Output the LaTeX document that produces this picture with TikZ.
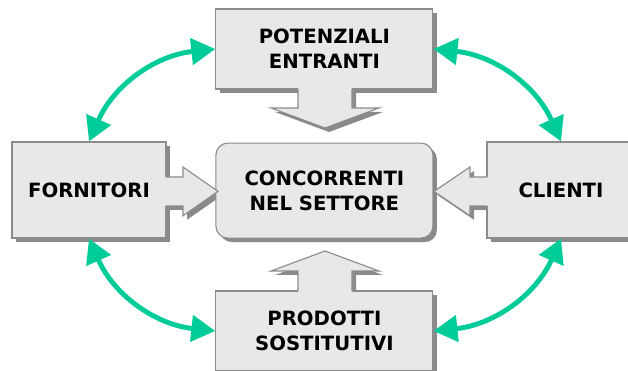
\documentclass[tikz,border=0pt]{standalone}
\usepackage{fontspec}
\setmainfont{DejaVu Sans}
\usetikzlibrary{arrows.meta,shadows}
\definecolor{boxgray}{HTML}{E8E8E8}
\definecolor{linegray}{HTML}{8C8C8C}
\definecolor{shadegray}{HTML}{8A8A8A}
\definecolor{arcgreen}{HTML}{00CC99}
\tikzset{
  force/.style={draw=linegray, fill=boxgray, line width=0.8pt,
    minimum width=5.425cm, minimum height=2cm, align=center,
    font=\bfseries\fontsize{14}{18}\selectfont,
    drop shadow={shadow xshift=0.1cm, shadow yshift=-0.1cm, fill=shadegray, opacity=1}},
  rivalry/.style={force, rounded corners=0.3cm, minimum height=2.375cm},
  flowfill/.style={fill=boxgray},
  flowline/.style={draw=linegray, line width=0.8pt},
  flowshade/.style={fill=shadegray, shift={(0.1,-0.1)}},
  link/.style={arcgreen, line width=3.5pt,
    {Triangle[length=0.6cm,width=0.65cm]}-{Triangle[length=0.6cm,width=0.65cm]}}
}
\begin{document}
\begin{tikzpicture}
    \useasboundingbox (0,0) rectangle (15.7,9.275);
    % shadows of the big arrows
    \fill[flowshade](7.45,7.05)--(7.45,6.575)--(6.775,6.575)--(8.125,6.075)--(9.475,6.575)--(8.8,6.575)--(8.8,7.05)--cycle;
    \fill[flowshade](4.15,4.85)--(4.575,4.85)--(4.575,5.1)--(5.45,4.49)--(4.575,3.88)--(4.575,4.125)--(4.15,4.125)--cycle;
    \fill[flowshade](12.175,4.85)--(11.75,4.85)--(11.75,5.1)--(10.85,4.49)--(11.75,3.88)--(11.75,4.125)--(12.175,4.125)--cycle;
    \fill[flowshade](7.45,2)--(7.45,2.5)--(6.775,2.5)--(8.125,3)--(9.475,2.5)--(8.8,2.5)--(8.8,2)--cycle;

    \node[force] (entranti) at (8.11,8.05){POTENZIALI\\ENTRANTI};
    \node[rivalry] (settore) at (8.11,4.51){CONCORRENTI\\NEL SETTORE};
    \node[force, minimum width=3.85cm, minimum height=2.4cm] (fornitori) at (2.225,4.525){FORNITORI};
    \node[force, minimum width=3.7cm, minimum height=2.4cm] (clienti) at (14.025,4.525){CLIENTI};
    \node[force] (sostitutivi) at (8.11,1){PRODOTTI\\SOSTITUTIVI};

    % big arrows
    \fill[flowfill](7.45,7.08)--(7.45,6.575)--(6.775,6.575)--(8.125,6.075)--(9.475,6.575)--(8.8,6.575)--(8.8,7.08)--cycle;
    \draw[flowline](7.45,7.05)--(7.45,6.575)--(6.775,6.575)--(8.125,6.075)--(9.475,6.575)--(8.8,6.575)--(8.8,7.05);
    \fill[flowfill](4.12,4.85)--(4.575,4.85)--(4.575,5.1)--(5.45,4.49)--(4.575,3.88)--(4.575,4.125)--(4.12,4.125)--cycle;
    \draw[flowline](4.15,4.85)--(4.575,4.85)--(4.575,5.1)--(5.45,4.49)--(4.575,3.88)--(4.575,4.125)--(4.15,4.125);
    \fill[flowfill](12.205,4.85)--(11.75,4.85)--(11.75,5.1)--(10.85,4.49)--(11.75,3.88)--(11.75,4.125)--(12.205,4.125)--cycle;
    \draw[flowline](12.175,4.85)--(11.75,4.85)--(11.75,5.1)--(10.85,4.49)--(11.75,3.88)--(11.75,4.125)--(12.175,4.125);
    \fill[flowfill](7.45,1.97)--(7.45,2.5)--(6.775,2.5)--(8.125,3)--(9.475,2.5)--(8.8,2.5)--(8.8,1.97)--cycle;
    \draw[flowline](7.45,2)--(7.45,2.5)--(6.775,2.5)--(8.125,3)--(9.475,2.5)--(8.8,2.5)--(8.8,2);

    \draw[link](entranti.west) to[bend right=30] (fornitori.north);
    \draw[link](entranti.east) to[bend left=30] (clienti.north);
    \draw[link](fornitori.south) to[bend right=30] (sostitutivi.west);
    \draw[link](clienti.south) to[bend left=30] (sostitutivi.east);
\end{tikzpicture}
\end{document}
